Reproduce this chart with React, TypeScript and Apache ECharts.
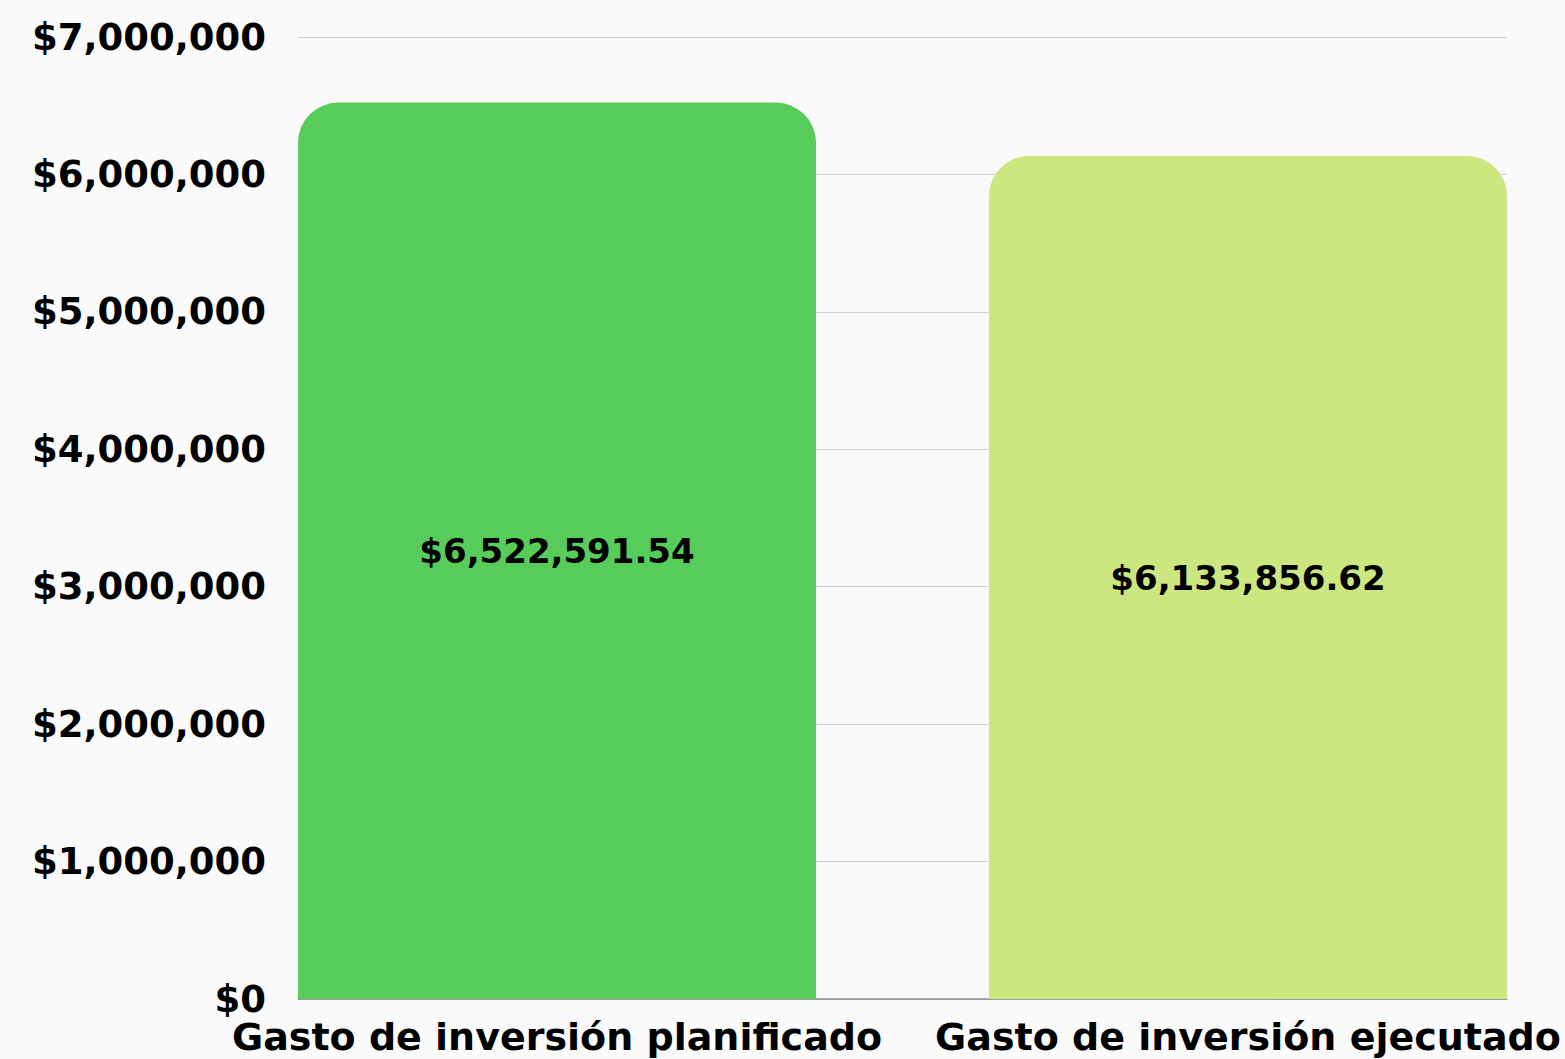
import React, { useEffect, useRef } from "react";
import * as echarts from "echarts";

const categories = ["Gasto de inversión planificado", "Gasto de inversión ejecutado"];
const values = [6522591.54, 6133856.62];
const barColors = ["#58cc5a", "#cce680"];
const yTicks = [0, 1000000, 2000000, 3000000, 4000000, 5000000, 6000000, 7000000];

const FONT = "'DejaVu Sans', sans-serif";

function fmtInt(v: number) {
  return "$" + Math.round(v).toLocaleString("en-US");
}
function fmtMoney(v: number) {
  return "$" + v.toLocaleString("en-US", { minimumFractionDigits: 2, maximumFractionDigits: 2 });
}

export default function App() {
  const ref = useRef<HTMLDivElement>(null);
  useEffect(() => {
    if (!ref.current) return;
    const chart = echarts.init(ref.current, undefined, { renderer: "svg" });
    const yMin = yTicks[0];
    const yMax = yTicks[yTicks.length - 1];
    const yInterval = yTicks[1] - yTicks[0];
    chart.setOption({
      animation: false,
      backgroundColor: "#fafafa",
      grid: [
        { left: 298, width: 1209, top: 37, height: 962 },
        { left: 557, width: 691, top: 37, height: 962 },
      ],
      xAxis: [
        {
          type: "category",
          gridIndex: 0,
          data: categories,
          axisLine: { show: true, lineStyle: { color: "#8c8c8c", width: 1.5 } },
          axisTick: { show: false },
          axisLabel: { show: false },
        },
        {
          type: "category",
          gridIndex: 1,
          data: categories,
          boundaryGap: false,
          axisLine: { show: false },
          axisTick: { show: false },
          splitLine: { show: false },
          axisLabel: {
            color: "#000",
            fontFamily: FONT,
            fontWeight: "bold",
            fontSize: 38,
            lineHeight: 38,
            margin: 19,
            interval: 0,
            showMinLabel: true,
            showMaxLabel: true,
          },
        },
      ],
      yAxis: [
        {
          type: "value",
          gridIndex: 0,
          min: yMin,
          max: yMax,
          interval: yInterval,
          axisLine: { show: false },
          axisTick: { show: false },
          splitLine: { show: true, lineStyle: { color: "#cfcfcf", width: 1 } },
          axisLabel: {
            color: "#000",
            fontFamily: FONT,
            fontWeight: "bold",
            fontSize: 37,
            margin: 32,
            formatter: (v: number) => fmtInt(v),
          },
        },
        {
          type: "value",
          gridIndex: 1,
          min: yMin,
          max: yMax,
          interval: yInterval,
          show: false,
          splitLine: { show: false },
        },
      ],
      series: [
        {
          type: "bar",
          xAxisIndex: 1,
          yAxisIndex: 1,
          barWidth: 518,
          clip: false,
          data: values.map((v, i) => ({
            value: v,
            itemStyle: { color: barColors[i], borderRadius: [40, 40, 0, 0] },
          })),
          label: {
            show: true,
            position: "inside",
            color: "#000",
            fontFamily: FONT,
            fontWeight: "bold",
            fontSize: 34,
            formatter: (p: any) => fmtMoney(p.value),
          },
        },
      ],
    });
    return () => chart.dispose();
  }, []);
  return (
    <div
      ref={ref}
      style={{ position: "fixed", left: 0, top: 0, width: 1565, height: 1059 }}
    />
  );
}
